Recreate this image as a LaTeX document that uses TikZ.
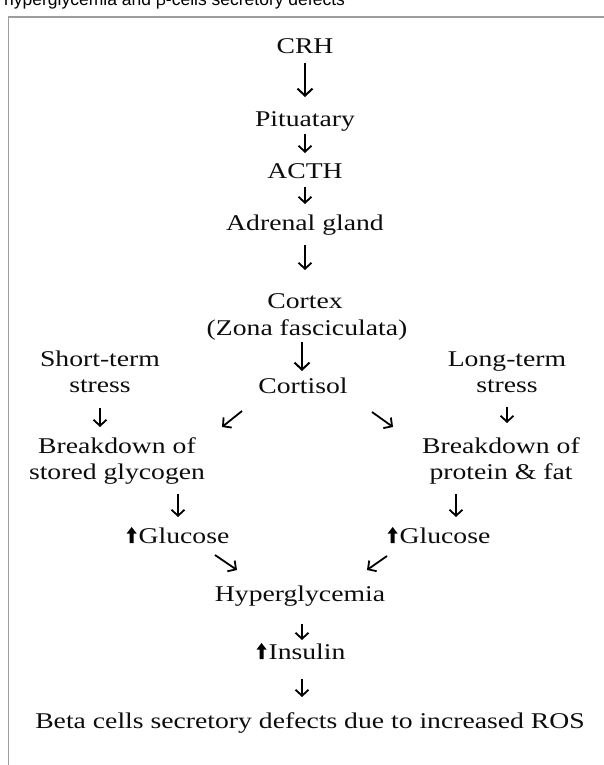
\documentclass[tikz,border=0pt]{standalone}
\usepackage{fontspec}
\setmainfont{Liberation Serif}[FakeStretch=1.23]
\newfontfamily\titlefont{Liberation Sans}
\usetikzlibrary{arrows.meta,calc}
\newcommand{\uparr}{\tikz[baseline=0pt]\fill[black] (-2pt,0pt)--(2pt,0pt)--(2pt,9.5pt)--(5pt,9.5pt)--(0pt,16pt)--(-5pt,9.5pt)--(-2pt,9.5pt)--cycle;\hspace{2pt}}
\tikzset{
  lbl/.style={inner sep=0pt, anchor=base, align=center, font=\fontsize{22.5}{26}\selectfont, text=black!95},
  arr/.style={line width=1.8pt, -{Straight Barb[length=6pt,width=13pt]}},
  bigarr/.style={line width=2pt, -{Straight Barb[length=7pt,width=15pt]}},
  frame/.style={draw=black!38, line width=1.4pt}
}
\begin{document}
\begin{tikzpicture}[x=1pt,y=-1pt]
\useasboundingbox (0,0) rectangle (604,765);
\begin{scope}
\clip (0,0) rectangle (604,765);
\node[inner sep=0pt, anchor=base west, font=\titlefont\fontsize{17.5}{20}\selectfont] (title) at (4,5.5) {hyperglycemia and β-cells secretory defects};
\end{scope}
\draw[frame] (604,17) -- (8.5,17) -- (8.5,765);

% single-line labels: base = baseline; two-line labels: base = baseline of last line
\node[lbl] (crh) at (305,54) {CRH};
\node[lbl] (pit) at (305,126) {Pituatary};
\node[lbl] (acth) at (305,178) {ACTH};
\node[lbl] (adr) at (305,230) {Adrenal gland};
\node[lbl] (cortex) at (305,308) {Cortex};
\node[lbl] (zona) at (307,335) {(Zona fasciculata)};
\node[lbl] (cortisol) at (303,393) {Cortisol};
\node[lbl] (st) at (100,392) {Short-term\\stress};
\node[lbl] (lt) at (507,392) {Long-term\\stress};
\node[lbl] (bl) at (117,479) {Breakdown of\\stored glycogen};
\node[lbl] (br) at (501,479) {Breakdown of\\protein \& fat};
\node[lbl] (gl) at (178,543) {\uparr Glucose};
\node[lbl] (gr) at (439,543) {\uparr Glucose};
\node[lbl] (hyper) at (300,601) {Hyperglycemia};
\node[lbl] (ins) at (301,659) {\uparr Insulin};
\node[lbl] (beta) at (310,728) {Beta cells secretory defects due to increased ROS};

\draw[bigarr] ($(crh.base)+(0,9)$) -- ($(pit.base)+(0,-29)$);
\draw[arr] ($(pit.base)+(0,8)$) -- ($(acth.base)+(0,-25)$);
\draw[arr] ($(acth.base)+(0,9)$) -- ($(adr.base)+(0,-26)$);
\draw[arr] ($(adr.base)+(0,15)$) -- ($(cortex.base)+(0,-38)$);
\draw[bigarr] ($(zona.base)+(-5,7)$) -- ($(cortisol.base)+(-1,-22)$);
\draw[arr] ($(cortisol.base)+(-61,18)$) -- ($(cortisol.base)+(-81,34)$);
\draw[arr] ($(cortisol.base)+(69,19)$) -- ($(cortisol.base)+(90,34)$);
\draw[arr] ($(st.base)+(0,16)$) -- ($(bl.base)+(-17,-52)$);
\draw[arr] ($(lt.base)+(0,15)$) -- ($(br.base)+(6,-56)$);
\draw[arr] ($(bl.base)+(61,15)$) -- ($(gl.base)+(0,-26)$);
\draw[arr] ($(br.base)+(-45,15)$) -- ($(gr.base)+(17,-26)$);
\draw[arr] ($(gl.base)+(37,12)$) -- ($(hyper.base)+(-63,-31)$);
\draw[arr] ($(gr.base)+(-52,13)$) -- ($(hyper.base)+(67,-31)$);
\draw[arr] ($(hyper.base)+(2,23)$) -- ($(ins.base)+(1,-19)$);
\draw[arr] ($(ins.base)+(1,20)$) -- ($(beta.base)+(-8,-31)$);
\end{tikzpicture}
\end{document}
